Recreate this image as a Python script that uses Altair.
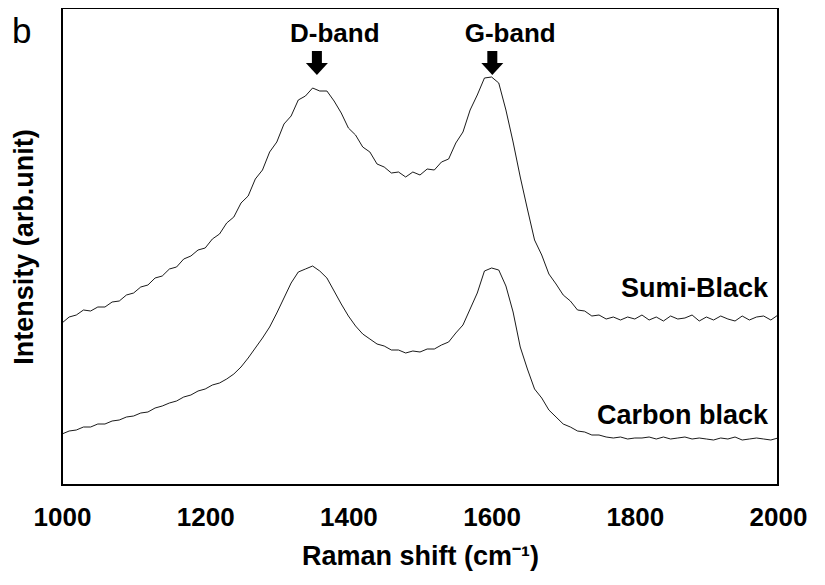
import altair as alt
import pandas as pd

wavenumber = list(range(1000, 2001, 10))

sumi_black = [162, 168, 170, 175, 174, 178, 178, 183, 184, 190, 192, 198, 200, 207, 209, 216, 218, 226, 229, 235,
              237, 246, 251, 262, 268, 282, 289, 306, 315, 333, 343, 361, 369, 385, 389, 397, 394, 394, 384, 372,
              357, 350, 338, 333, 321, 318, 312, 313, 308, 313, 310, 316, 315, 323, 326, 342, 353, 375, 390, 407,
              408, 402, 375, 343, 308, 276, 245, 230, 211, 201, 190, 184, 175, 174, 169, 170, 166,
              168, 165, 168, 166, 170, 165, 168, 164, 169, 166, 167, 170, 164, 168, 165, 169, 166, 164, 169, 165,
              168, 169, 165, 170]

carbon_black = [51, 54, 55, 58, 58, 61, 61, 64, 65, 68, 69, 72, 73, 77, 79, 82, 84, 88, 90, 94,
                96, 100, 102, 106, 111, 118, 127, 137, 147, 158, 172, 187, 202, 213, 216, 219, 214, 207, 194, 181,
                169, 159, 151, 146, 141, 139, 135, 135, 132, 134, 133, 136, 136, 140, 143, 152, 160, 176, 192, 214,
                217, 215, 199, 173, 138, 116, 96, 87, 75, 68, 61, 58, 54, 53, 50, 50, 48,
                47, 48, 46, 47, 47, 48, 46, 48, 46, 47, 48, 46, 47, 46, 45, 47, 46, 48, 45, 46,
                47, 46, 45, 47]

series_names = ["Sumi-Black", "Carbon black"]
series_label_x = [1986, 1986]
series_label_y = [188, 61]

band_names = ["D-band", "G-band"]
band_pos = [1356, 1601]
band_label_x = [1381, 1626]

x_ticks = [1000, 1200, 1400, 1600, 1800, 2000]

FONT = "Liberation Sans"

df = pd.DataFrame({
    "w": wavenumber * 2,
    "I": sumi_black + carbon_black,
    "s": [series_names[0]] * len(wavenumber) + [series_names[1]] * len(wavenumber),
})
labels_df = pd.DataFrame({"w": series_label_x, "I": series_label_y, "t": series_names})
bands_df = pd.DataFrame({
    "w": band_pos, "wl": band_label_x, "t": band_names,
    "I": [443, 443], "top": [434, 434], "bot": [421, 421], "head": [416, 416],
})


def xenc(field="w"):
    return alt.X(f"{field}:Q",
                 scale=alt.Scale(domain=[1000, 2000], nice=False, zero=False),
                 axis=alt.Axis(title="Raman shift (cm⁻¹)", values=x_ticks, ticks=False, grid=False,
                               domain=False, labelPadding=19, titlePadding=13, format="d",
                               labelFlush=False, labelOverlap=False))


def yenc(field="I"):
    return alt.Y(f"{field}:Q",
                 scale=alt.Scale(domain=[0, 477], nice=False, zero=False),
                 axis=alt.Axis(title="Intensity (arb.unit)", labels=False, ticks=False, grid=False,
                               domain=False, titlePadding=24))


lines = alt.Chart(df).mark_line(color="black", strokeWidth=0.9).encode(
    x=xenc(), y=yenc(), detail="s:N")

series_text = alt.Chart(labels_df).mark_text(
    align="right", baseline="alphabetic", font=FONT, fontWeight="bold", fontSize=27, color="black"
).encode(x=xenc(), y=yenc(), text="t:N")

band_text = alt.Chart(bands_df).mark_text(
    align="center", baseline="alphabetic", font=FONT, fontWeight="bold", fontSize=26, color="black"
).encode(x=xenc("wl"), y=yenc(), text="t:N")

shaft = alt.Chart(bands_df).mark_rule(color="black", strokeWidth=10).encode(
    x=xenc(), y=yenc("top"), y2="bot:Q")

head = alt.Chart(bands_df).mark_point(
    shape="M-1,-0.55L1,-0.55L0,0.55Z", filled=True, color="black", size=484, opacity=1, strokeWidth=0
).encode(x=xenc(), y=yenc("head"))

panel = alt.Chart(pd.DataFrame({"t": ["b"]})).mark_text(
    align="left", baseline="alphabetic", font=FONT, fontSize=35, color="black"
).encode(x=alt.value(-50), y=alt.value(35), text="t:N")

chart = alt.layer(lines, series_text, band_text, shaft, head, panel).properties(
    width=716, height=477,
    autosize=alt.AutoSizeParams(type="none"),
    padding={"left": 54, "top": 0, "right": 39, "bottom": 90},
).configure_view(stroke="black", strokeWidth=2).configure_axis(
    labelFont=FONT, labelFontWeight="bold", labelFontSize=26, labelColor="black",
    titleFont=FONT, titleFontWeight="bold", titleFontSize=27, titleColor="black",
)

chart.save("out.html", embed_options={"renderer": "svg", "actions": False})
